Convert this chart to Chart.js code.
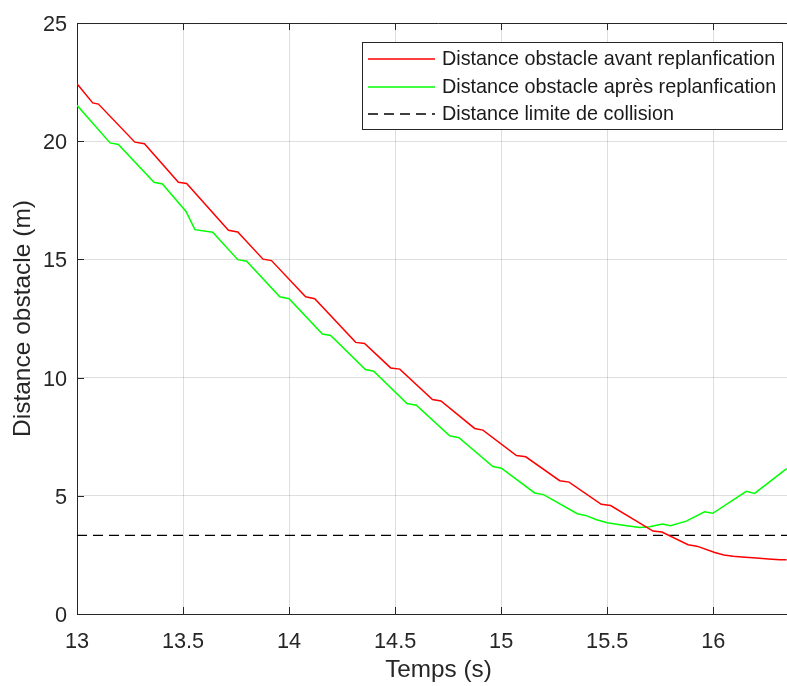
<!DOCTYPE html>
<html>
<head>
<meta charset="utf-8">
<script src="https://cdn.jsdelivr.net/npm/chart.js@4.4.1/dist/chart.umd.min.js"></script>
<style>
html,body{margin:0;padding:0;background:#fff;}
#wrap{width:787px;height:686px;overflow:hidden;position:relative;}
canvas{display:block;}
</style>
</head>
<body>
<div id="wrap"><canvas id="c" width="800" height="686"></canvas></div>
<script>
// ---- data ----
const redT = [13.0,13.074,13.101,13.273,13.318,13.478,13.517,13.714,13.758,13.877,13.917,14.078,14.121,14.314,14.356,14.479,14.522,14.676,14.716,14.875,14.914,15.072,15.116,15.276,15.32,15.472,15.516,15.716,15.758,15.881,15.923,16.007,16.05,16.093,16.15,16.203,16.26,16.313,16.346];
const redD = [22.43,21.62,21.57,19.96,19.89,18.26,18.21,16.23,16.16,15.01,14.95,13.42,13.34,11.49,11.44,10.41,10.36,9.07,9.01,7.85,7.78,6.70,6.65,5.64,5.58,4.64,4.59,3.51,3.47,2.93,2.87,2.60,2.50,2.44,2.40,2.37,2.33,2.30,2.29];
const greenT = [13.0,13.156,13.195,13.363,13.403,13.514,13.556,13.64,13.758,13.8,13.956,14.0,14.157,14.196,14.36,14.399,14.556,14.6,14.757,14.801,14.961,15.001,15.158,15.2,15.359,15.398,15.45,15.5,15.559,15.653,15.7,15.76,15.798,15.873,15.959,15.998,16.156,16.195,16.346];
const greenD = [21.52,19.93,19.86,18.26,18.19,17.03,16.26,16.15,14.99,14.92,13.42,13.34,11.84,11.78,10.34,10.27,8.90,8.83,7.54,7.46,6.24,6.17,5.12,5.05,4.24,4.17,3.99,3.86,3.78,3.66,3.69,3.81,3.73,3.93,4.32,4.26,5.19,5.10,6.15];
const limitValue = 3.33;
const xRange = [13, 16.409];
const yRange = [0, 25];
const xTicks = [13, 13.5, 14, 14.5, 15, 15.5, 16];
const xTickLabels = ['13', '13.5', '14', '14.5', '15', '15.5', '16'];
const yTicks = [0, 5, 10, 15, 20, 25];
const yTickLabels = ['0', '5', '10', '15', '20', '25'];
const seriesLabels = ['Distance obstacle avant replanfication','Distance obstacle après replanfication','Distance limite de collision'];
const xTitle = 'Temps (s)';
const yTitle = 'Distance obstacle (m)';

const FONT = '"Liberation Sans", Arial, Helvetica, sans-serif';
const AX = '#262626';

const toXY = (t, d) => t.map((v, i) => ({x: v, y: d[i]}));

const axesDeco = {
  id: 'axesDeco',
  afterDatasetsDraw(chart) {
    const ctx = chart.ctx, a = chart.chartArea;
    const xs = chart.scales.x, ys = chart.scales.y;
    ctx.save();
    ctx.strokeStyle = AX; ctx.lineWidth = 1;
    ctx.beginPath();
    ctx.moveTo(a.left, a.top + 0.5); ctx.lineTo(a.right, a.top + 0.5);
    ctx.moveTo(a.right - 0.5, a.top); ctx.lineTo(a.right - 0.5, a.bottom);
    const L = 7;
    xs.ticks.forEach(t => {
      const p = Math.round(xs.getPixelForValue(t.value)) + 0.5;
      ctx.moveTo(p, a.bottom); ctx.lineTo(p, a.bottom - L);
      ctx.moveTo(p, a.top); ctx.lineTo(p, a.top + L);
    });
    ys.ticks.forEach(t => {
      const p = Math.round(ys.getPixelForValue(t.value)) + 0.5;
      ctx.moveTo(a.left, p); ctx.lineTo(a.left + L, p);
      ctx.moveTo(a.right, p); ctx.lineTo(a.right - L, p);
    });
    ctx.stroke();
    ctx.restore();
  }
};

const boxLegend = {
  id: 'boxLegend',
  afterDraw(chart) {
    const ctx = chart.ctx;
    const bx = 362.5, by = 42.5, bw = 420, bh = 87;
    ctx.save();
    ctx.fillStyle = '#fff';
    ctx.fillRect(bx, by, bw, bh);
    ctx.strokeStyle = AX; ctx.lineWidth = 1;
    ctx.strokeRect(bx, by, bw, bh);
    const rows = [59, 87, 114];
    chart.data.datasets.forEach((ds, i) => {
      const y = rows[i];
      ctx.beginPath();
      ctx.strokeStyle = ds.borderColor;
      ctx.lineWidth = ds.borderWidth;
      ctx.setLineDash(ds.borderDash || []);
      ctx.moveTo(368, y); ctx.lineTo(435, y);
      ctx.stroke();
      ctx.setLineDash([]);
      ctx.fillStyle = '#1a1a1a';
      ctx.font = '19.8px ' + FONT;
      ctx.textBaseline = 'middle';
      ctx.textAlign = 'left';
      ctx.fillText(ds.label, 442, y + 1);
    });
    ctx.restore();
  }
};

new Chart(document.getElementById('c'), {
  type: 'line',
  data: {
    datasets: [
      {label: seriesLabels[0], data: toXY(redT, redD), borderColor: '#ff0000', borderWidth: 1.5, pointRadius: 0, tension: 0},
      {label: seriesLabels[1], data: toXY(greenT, greenD), borderColor: '#00ff00', borderWidth: 1.5, pointRadius: 0, tension: 0},
      {label: seriesLabels[2], data: [{x: xRange[0], y: limitValue}, {x: xRange[1], y: limitValue}], borderColor: '#000000', borderWidth: 1.3, borderDash: [10, 6], pointRadius: 0, tension: 0}
    ]
  },
  options: {
    responsive: false,
    animation: false,
    devicePixelRatio: 1,
    layout: {padding: {top: 18, left: 0, right: 0, bottom: 0}},
    plugins: {legend: {display: false}, tooltip: {enabled: false}},
    scales: {
      x: {
        type: 'linear', min: xRange[0], max: xRange[1],
        afterBuildTicks: s => { s.ticks = xTicks.map(v => ({value: v})); },
        afterFit: s => { s.height = 72; },
        grid: {color: 'rgba(0,0,0,0.13)', drawTicks: false, lineWidth: 1},
        border: {display: true, color: AX, width: 1},
        ticks: {color: AX, font: {family: FONT, size: 21.7}, padding: 15, maxRotation: 0, autoSkip: false,
          callback: (v, i) => xTickLabels[i]},
        title: {display: true, text: xTitle, color: AX, font: {family: FONT, size: 24.3}, padding: {top: 0, bottom: 1}}
      },
      y: {
        type: 'linear', min: yRange[0], max: yRange[1],
        afterBuildTicks: s => { s.ticks = yTicks.map(v => ({value: v})); },
        afterFit: s => { s.width = 77; },
        grid: {color: 'rgba(0,0,0,0.13)', drawTicks: false, lineWidth: 1},
        border: {display: true, color: AX, width: 1},
        ticks: {color: AX, font: {family: FONT, size: 21.7}, padding: 10, autoSkip: false, labelOffset: 2,
          callback: (v, i) => yTickLabels[i]},
        title: {display: true, text: yTitle, color: AX, font: {family: FONT, size: 24.5}, padding: {top: 9, bottom: 0}}
      }
    }
  },
  plugins: [axesDeco, boxLegend]
});
</script>
</body>
</html>
